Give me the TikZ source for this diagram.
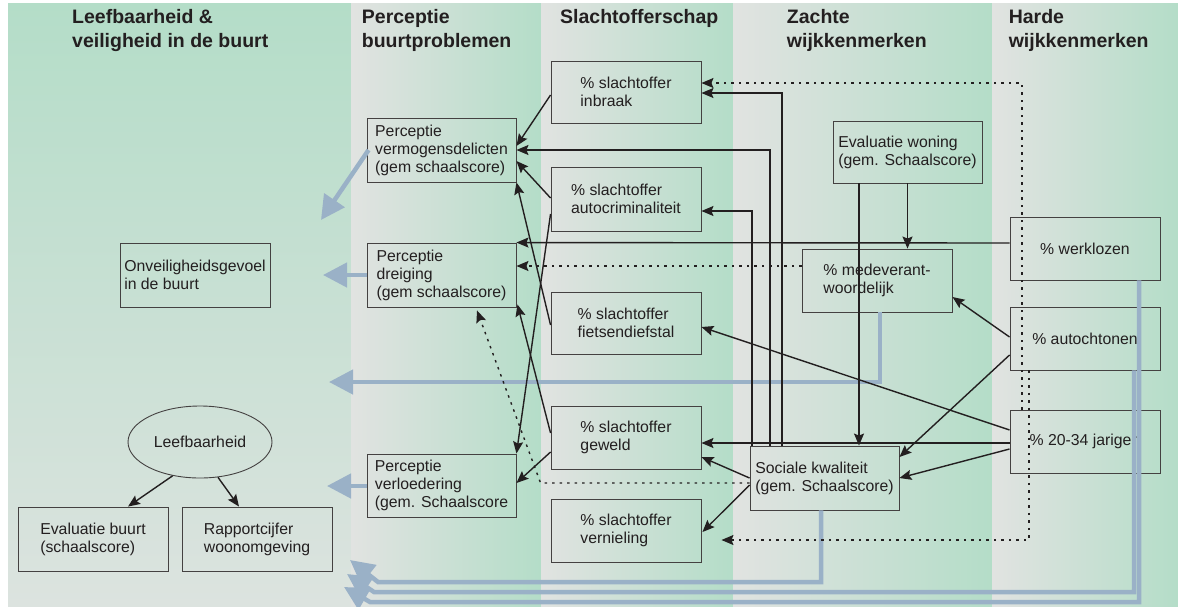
\documentclass[tikz,border=0pt]{standalone}
\usepackage{fontspec}
\setmainfont{Liberation Sans}
\usetikzlibrary{arrows.meta,calc,shapes.geometric}
\definecolor{bggreen}{RGB}{180,221,200}
\definecolor{bggray}{RGB}{225,227,225}
\definecolor{bgbot}{RGB}{220,227,223}
\definecolor{ink}{RGB}{35,31,32}
\definecolor{blu}{RGB}{154,177,199}
\begin{document}
\begin{tikzpicture}[x=1pt,y=-1pt,
  box/.style={draw=ink!85, line width=0.9pt, rectangle, inner sep=0pt, align=left,
    font=\fontsize{15.8}{18}\selectfont, text=ink},
  oval/.style={box, ellipse},
  arr/.style={draw=ink, line width=1.4pt, -{Stealth[length=12pt,width=10pt,inset=2pt]}},
  dotarr/.style={arr, dash pattern=on 2.5pt off 5pt},
  barr/.style={draw=blu, line width=4.5pt, -{Triangle[length=24pt,width=24pt]}},
  head/.style={font=\fontsize{19.5}{24}\selectfont\bfseries, align=left, anchor=north west,
    inner sep=0pt, text=ink}
]
\useasboundingbox (0,0) rectangle (1178,606);
\fill[white] (0,0) rectangle (1178,606);
% background columns
\shade[top color=bggreen, bottom color=bgbot] (8,3) rectangle (351,606);
\foreach \a/\b in {351/541, 541/733, 733/992, 992/1178}
  \shade[left color=bggray, right color=bggreen] (\a,3) rectangle (\b,606);

% headings
\node[head] (h1) at (72,9) {Leefbaarheid \&\\veiligheid in de buurt};
\node[head] (h2) at (361.7,9) {Perceptie\\buurtproblemen};
\node[head] (h3) at (560,9) {Slachtofferschap};
\node[head] (h4) at (786.7,9) {Zachte\\wijkkenmerken};
\node[head] (h5) at (1008.6,9) {Harde\\wijkkenmerken};

% boxes
\node[box, minimum width=149pt, minimum height=64pt] (pvd) at (441.5,150) {Perceptie\\vermogensdelicten\\(gem schaalscore)};
\node[box, minimum width=149pt, minimum height=64pt] (pdr) at (441.5,275) {Perceptie\\dreiging\\(gem schaalscore)};
\node[box, minimum width=149pt, minimum height=63pt] (pvl) at (441.5,485.5) {Perceptie\\verloedering\\(gem. Schaalscore};
\node[box, minimum width=150pt, minimum height=62pt] (sinb) at (626,92) {\% slachtoffer\\inbraak};
\node[box, minimum width=150pt, minimum height=64pt] (sauto) at (626,199) {\% slachtoffer\\autocriminaliteit};
\node[box, minimum width=150pt, minimum height=62pt] (sfiets) at (626,323) {\% slachtoffer\\fietsendiefstal};
\node[box, minimum width=150pt, minimum height=63pt] (sgew) at (626,437.5) {\% slachtoffer\\geweld};
\node[box, minimum width=150pt, minimum height=63pt] (sver) at (626,530.5) {\% slachtoffer\\vernieling};
\node[box, minimum width=149pt, minimum height=62pt] (ewon) at (907.5,152) {Evaluatie woning\\(gem. Schaalscore)};
\node[box, minimum width=150pt, minimum height=63pt] (med) at (877,280.5) {\% medeverant-\\woordelijk};
\node[box, minimum width=149pt, minimum height=64pt] (soc) at (824.5,478) {Sociale kwaliteit\\(gem. Schaalscore)};
\node[box, minimum width=150pt, minimum height=63pt] (werk) at (1085,248.5) {\% werklozen};
\node[box, minimum width=150pt, minimum height=63pt] (auto) at (1085,338.5) {\% autochtonen};
\node[box, minimum width=150pt, minimum height=63pt] (jar) at (1085,441.5) {\% 20-34 jarigen};
\node[box, minimum width=150pt, minimum height=64pt] (onv) at (195,275) {Onveiligheidsgevoel\\in de buurt};
\node[oval, minimum width=144pt, minimum height=72pt] (leef) at (200,442) {Leefbaarheid};
\node[box, minimum width=150pt, minimum height=64pt] (evb) at (93,539) {Evaluatie buurt\\(schaalscore)};
\node[box, minimum width=150pt, minimum height=64pt] (rap) at (257,539) {Rapportcijfer\\woonomgeving};

% blue arrows
\coordinate (t1) at (321,220);
\coordinate (t2) at (323,275);
\coordinate (t3) at (327,486);
\coordinate (t4) at (329,382);
\coordinate (t5) at (350,560);
\coordinate (t6) at (347,574);
\coordinate (t7) at (344,587);
\draw[barr] ($(pvd.west)+(2,0)$) -- (t1);
\draw[barr] (pdr.west) -- (t2);
\draw[barr] ($(pvl.west)+(0,0.5)$) -- (t3);
\draw[barr] ($(med.south)+(3,0)$) |- (t4);
\draw[barr] ($(soc.south)+(-3.5,0)$) |- ($(t5)+(28,22)$) -- (t5);
\draw[barr] ($(auto.south)+(49,0)$) |- ($(t6)+(27,18)$) -- (t6);
\draw[barr] ($(werk.south)+(54,0)$) |- ($(t7)+(26,15)$) -- (t7);

% black arrows
\draw[arr] ($(sinb.west)+(0,3)$) -- ($(pvd.east)+(0,-4)$);
\draw[arr] ($(soc.north)+(-42.5,0)$) |- ($(sinb.east)+(0,1)$);
\draw[arr] ($(soc.north)+(-54.5,0)$) |- (pvd.east);
\draw[arr] ($(soc.north)+(-72.5,0)$) |- ($(sauto.east)+(0,12)$);
\draw[arr] ($(sauto.west)+(0,-1)$) -- ($(pvd.east)+(0,11)$);
\draw[arr] ($(sfiets.west)+(0,2)$) -- (pvd.south east);
\draw[arr] ($(sauto.west)+(0,15)$) -- (pvl.north east);
\draw[arr] ($(sgew.west)+(0,-4.5)$) -- ($(pdr.south east)+(1,-3)$);
\draw[arr] ($(sgew.west)+(0,14.5)$) -- ($(pvl.east)+(0,-2.5)$);
\draw[arr] ($(werk.west)+(0,-5.5)$) -- (pdr.north east);
\draw[dotarr] ($(med.west)+(0,-14.5)$) -- ($(pdr.east)+(0,-9)$);
\draw[arr] (ewon.south) -- (ewon.south |- med.north);
\coordinate (ew1) at ($(ewon.south)+(-48.5,0)$);
\draw[arr] (ew1) -- (ew1 |- soc.north);
\draw[arr] ($(auto.west)+(0,-1.5)$) -- ($(med.east)+(0,16.5)$);
\draw[arr] ($(auto.west)+(0,16.5)$) -- ($(soc.east)+(0,-21)$);
\draw[arr] ($(jar.west)+(0,-11.5)$) -- ($(sfiets.east)+(0,4)$);
\draw[arr] ($(jar.west)+(0,1.5)$) -- ($(sgew.east)+(0,5.5)$);
\draw[arr] ($(jar.west)+(0,7.5)$) -- (soc.east);
\draw[arr] (soc.west) -- ($(sgew.east)+(0,19.5)$);
\draw[arr] ($(soc.west)+(0,7)$) -- ($(sver.east)+(1,1.5)$);
\draw[dotarr] ($(soc.west)+(0,5)$) -- ++(-209,0) -- ($(pdr.south)+(35.5,3)$);
\draw[dotarr] ($(jar.north)+(-63,0)$) |- ($(sinb.east)+(0,-9)$);
\draw[dotarr] ($(auto.south)+(-56,0)$) |- ($(sver.east)+(20,9.5)$);
\draw[arr] (leef.231) -- ($(evb.north)+(35,0)$);
\draw[arr] (leef.297) -- ($(rap.north)+(-18,0)$);
\end{tikzpicture}
\end{document}
